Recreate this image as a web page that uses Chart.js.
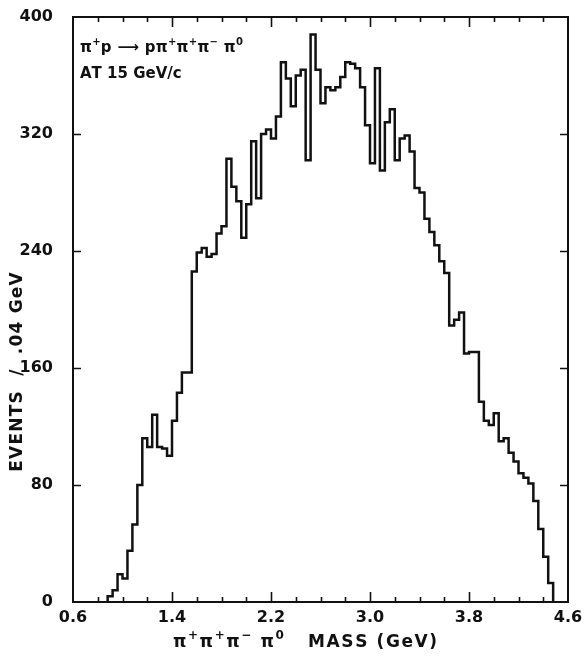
<!DOCTYPE html>
<html>
<head>
<meta charset="utf-8">
<script src="https://cdn.jsdelivr.net/npm/chart.js@4/dist/chart.umd.min.js"></script>
<style>
  html, body { margin: 0; padding: 0; background: #fff; }
  #wrap { width: 586px; height: 657px; }
</style>
</head>
<body>
<div id="wrap"><canvas id="chart" width="586" height="657"></canvas></div>
<script>
// Histogram of the pi+ pi+ pi- pi0 invariant mass, 0.04 GeV bins
const binStart = 0.88;          // lower edge of the first filled bin (GeV)
const binWidth = 0.04;          // GeV per bin
const events = [
    4,   8,  19,  16,  35,  53,  80, 112, 106, 128,
  106, 105, 100, 124, 143, 157, 157, 226, 239, 242,
  236, 238, 252, 257, 303, 284, 274, 249, 272, 315,
  276, 320, 323, 317, 332, 369, 358, 339, 360, 364,
  302, 388, 364, 341, 352, 350, 352, 359, 369, 368,
  365, 352, 326, 300, 365, 295, 328, 337, 302, 317,
  319, 308, 283, 280, 262, 253, 244, 233, 225, 189,
  193, 198, 170, 171, 171, 137, 124, 121, 129, 110,
  112, 102,  96,  88,  85,  81,  69,  50,  31,  13
];
const xTicks = [0.6, 1.4, 2.2, 3.0, 3.8, 4.6];
const xMinorStep = 0.2;
const yTicks = [0, 80, 160, 240, 320, 400];

const INK = '#111';
const FONT = '"DejaVu Sans", "Liberation Sans", sans-serif';

// step outline: each point sits on a bin's lower edge
const points = [{ x: binStart, y: 0 }];
events.forEach((v, i) => points.push({ x: binStart + i * binWidth, y: v }));
points.push({ x: binStart + events.length * binWidth, y: 0 });

// draws a run of text pieces (some raised as superscripts), letter by letter
function richText(ctx, parts, x, y, size, align, spacing) {
  const sp = spacing || 0;
  const base = `bold ${size}px ${FONT}`;
  const sup = `bold ${Math.round(size * 0.68)}px ${FONT}`;
  const glyphs = [];
  parts.forEach(p => {
    for (const ch of p.t) glyphs.push({ ch, sup: !!p.sup });
  });
  let total = 0;
  glyphs.forEach(g => {
    ctx.font = g.sup ? sup : base;
    g.w = ctx.measureText(g.ch).width + sp;
    total += g.w;
  });
  total -= sp;
  let cx = align === 'center' ? x - total / 2 : x;
  ctx.textAlign = 'left';
  ctx.textBaseline = 'alphabetic';
  glyphs.forEach(g => {
    ctx.font = g.sup ? sup : base;
    ctx.fillText(g.ch, cx, g.sup ? y - size * 0.5 : y);
    cx += g.w;
  });
}

const framePlugin = {
  id: 'frame',
  afterDatasetsDraw(chart) {
    const { ctx, scales: { x, y } } = chart;
    const l = x.getPixelForValue(0.6), r = x.getPixelForValue(4.6);
    const t = y.getPixelForValue(400), b = y.getPixelForValue(0);
    ctx.save();
    ctx.strokeStyle = INK;
    ctx.lineWidth = 2;
    ctx.strokeRect(l, t, r - l, b - t);
    // inward ticks on bottom and top
    ctx.lineWidth = 1.6;
    const n = Math.round((4.6 - 0.6) / xMinorStep);
    for (let i = 1; i < n; i++) {
      const v = 0.6 + i * xMinorStep;
      const major = xTicks.some(m => Math.abs(m - v) < 1e-6);
      const len = major ? 10 : 5;
      const px = Math.round(x.getPixelForValue(v)) + 0.5;
      ctx.beginPath();
      ctx.moveTo(px, b); ctx.lineTo(px, b - len);
      ctx.moveTo(px, t); ctx.lineTo(px, t + len);
      ctx.stroke();
    }
    // inward ticks on left and right
    yTicks.slice(1, -1).forEach(v => {
      const py = Math.round(y.getPixelForValue(v)) + 0.5;
      ctx.beginPath();
      ctx.moveTo(l, py); ctx.lineTo(l + 8, py);
      ctx.moveTo(r, py); ctx.lineTo(r - 8, py);
      ctx.stroke();
    });
    ctx.restore();
  },
  afterDraw(chart) {
    const { ctx } = chart;
    ctx.save();
    ctx.fillStyle = INK;
    // reaction and beam momentum
    richText(ctx, [
      { t: 'π' }, { t: '+', sup: true }, { t: 'p ⟶ p' },
      { t: 'π' }, { t: '+', sup: true }, { t: 'π' }, { t: '+', sup: true },
      { t: 'π' }, { t: '−', sup: true }, { t: ' π' }, { t: '0', sup: true }
    ], 80, 52, 15, 'left', 0.3);
    richText(ctx, [{ t: 'AT 15 GeV/c' }], 80, 78, 15, 'left', 0);
    // x axis title
    richText(ctx, [
      { t: 'π' }, { t: '+', sup: true }, { t: 'π' }, { t: '+', sup: true },
      { t: 'π' }, { t: '−', sup: true }, { t: ' π' }, { t: '0', sup: true },
      { t: '   MASS (GeV)' }
    ], 305, 647, 17, 'center', 1.6);
    // y axis title
    ctx.translate(22, 372);
    ctx.rotate(-Math.PI / 2);
    richText(ctx, [{ t: 'EVENTS  /  .04 GeV' }], 0, 0, 17, 'center', 1.2);
    ctx.restore();
  }
};

new Chart(document.getElementById('chart'), {
  type: 'line',
  data: {
    datasets: [{
      data: points,
      stepped: 'before',
      borderColor: INK,
      borderWidth: 2.5,
      pointRadius: 0,
      fill: false,
      tension: 0
    }]
  },
  options: {
    responsive: false,
    animation: false,
    events: [],
    layout: { padding: { top: 17, right: 18, left: 0, bottom: 0 } },
    plugins: { legend: { display: false }, tooltip: { enabled: false } },
    scales: {
      x: {
        type: 'linear', min: 0.6, max: 4.6,
        afterBuildTicks: s => { s.ticks = xTicks.map(v => ({ value: v })); },
        afterFit: s => { s.height = 55; s.paddingLeft = 0; s.paddingRight = 0; },
        grid: { display: false, drawTicks: false },
        border: { display: false },
        ticks: {
          autoSkip: false, maxRotation: 0, padding: 6, color: INK,
          font: { family: FONT, size: 16, weight: 'bold' },
          callback: v => v.toFixed(1)
        }
      },
      y: {
        min: 0, max: 400,
        afterBuildTicks: s => { s.ticks = yTicks.map(v => ({ value: v })); },
        afterFit: s => { s.width = 73; s.paddingTop = 0; s.paddingBottom = 0; },
        grid: { display: false, drawTicks: false },
        border: { display: false },
        ticks: {
          padding: 20, color: INK,
          font: { family: FONT, size: 16, weight: 'bold' },
          callback: v => String(v)
        }
      }
    }
  },
  plugins: [framePlugin]
});
</script>
</body>
</html>
